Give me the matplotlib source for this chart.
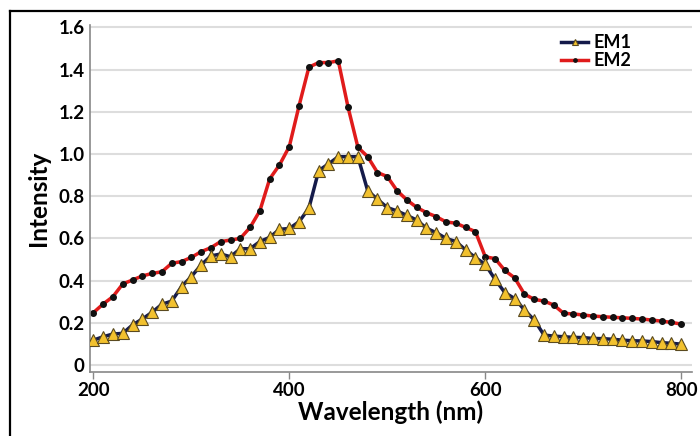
import matplotlib
matplotlib.use("Agg")
import matplotlib.pyplot as plt
from matplotlib.lines import Line2D

wavelength = list(range(200, 810, 10))

em1 = [0.118, 0.134, 0.147, 0.150, 0.190, 0.218, 0.250, 0.288, 0.303, 0.371,
       0.419, 0.474, 0.517, 0.526, 0.513, 0.551, 0.551, 0.585, 0.605, 0.643,
       0.647, 0.679, 0.743, 0.921, 0.953, 0.987, 0.987, 0.987, 0.826, 0.785,
       0.746, 0.730, 0.709, 0.687, 0.648, 0.627, 0.600, 0.585, 0.545, 0.509,
       0.477, 0.406, 0.343, 0.315, 0.261, 0.213, 0.142, 0.137, 0.134, 0.131,
       0.130, 0.126, 0.125, 0.122, 0.118, 0.115, 0.114, 0.111, 0.106, 0.103,
       0.099]

em2 = [0.248, 0.289, 0.324, 0.384, 0.403, 0.422, 0.434, 0.442, 0.482, 0.490,
       0.510, 0.537, 0.556, 0.585, 0.592, 0.600, 0.652, 0.731, 0.882, 0.948,
       1.035, 1.229, 1.411, 1.433, 1.433, 1.441, 1.221, 1.032, 0.987, 0.912,
       0.893, 0.826, 0.782, 0.747, 0.722, 0.703, 0.678, 0.672, 0.652, 0.632,
       0.513, 0.504, 0.448, 0.413, 0.336, 0.311, 0.303, 0.284, 0.245, 0.242,
       0.237, 0.232, 0.229, 0.226, 0.224, 0.221, 0.218, 0.213, 0.208, 0.202,
       0.194]

x_ticks = [200, 400, 600, 800]
y_ticks = [0, 0.2, 0.4, 0.6, 0.8, 1.0, 1.2, 1.4, 1.6]
y_ticklabels = ["0", "0.2", "0.4", "0.6", "0.8", "1.0", "1.2", "1.4", "1.6"]

plt.rcParams['font.family'] = ['Lato', 'DejaVu Sans']

W, H = 700, 436
fig = plt.figure(figsize=(W / 100, H / 100), dpi=100)

# outer frame: left and top edges
fig.add_artist(Line2D([10 / W, 10 / W], [-0.01, 1 - 11 / H],
                      transform=fig.transFigure, color='black', linewidth=1.6))
fig.add_artist(Line2D([10 / W, 1.01], [1 - 11 / H, 1 - 11 / H],
                      transform=fig.transFigure, color='black', linewidth=1.6))

ax = fig.add_axes([90 / W, 1 - 372 / H, (692 - 90) / W, (372 - 25) / H])

ax.plot(wavelength, em1, color='#141a4a', linewidth=2.5, marker='^',
        markersize=8, markerfacecolor='#f2c12e', markeredgecolor='#5a4a20',
        markeredgewidth=0.8, label='EM1', zorder=3)
ax.plot(wavelength, em2, color='#e01b1b', linewidth=2.5, marker='o',
        markersize=4, markerfacecolor='#111111', markeredgecolor='#111111',
        label='EM2', zorder=2)

ax.set_xlim(196.6, 811)
ax.set_ylim(-0.033, 1.611)
ax.set_xticks(x_ticks)
ax.set_yticks(y_ticks)
ax.set_yticklabels(y_ticklabels)

for lab in ax.get_xticklabels() + ax.get_yticklabels():
    lab.set_fontweight('bold')
ax.tick_params(axis='x', labelsize=13.5, length=5, width=1, color='#888888',
               direction='out', pad=2)
ax.tick_params(axis='y', labelsize=13.5, length=0, pad=4)

ax.grid(axis='y', color='#dddddd', linewidth=1.5)
ax.set_axisbelow(True)
ax.spines['top'].set_visible(False)
ax.spines['right'].set_visible(False)
for s in ['left', 'bottom']:
    ax.spines[s].set_color('#888888')
    ax.spines[s].set_linewidth(1.2)

ax.set_xlabel('Wavelength (nm)', fontsize=17.5, fontweight='bold', labelpad=1)
ax.set_ylabel('Intensity', fontsize=17.5, fontweight='bold', labelpad=6)

leg = ax.legend(loc='upper right', bbox_to_anchor=(0.915, 1.0), frameon=False,
                prop={'weight': 'bold', 'size': 13}, handlelength=1.5,
                handletextpad=0.3, labelspacing=0.05, borderaxespad=0.1,
                markerscale=0.6)

fig.savefig('out.png', dpi=100, facecolor='white')
